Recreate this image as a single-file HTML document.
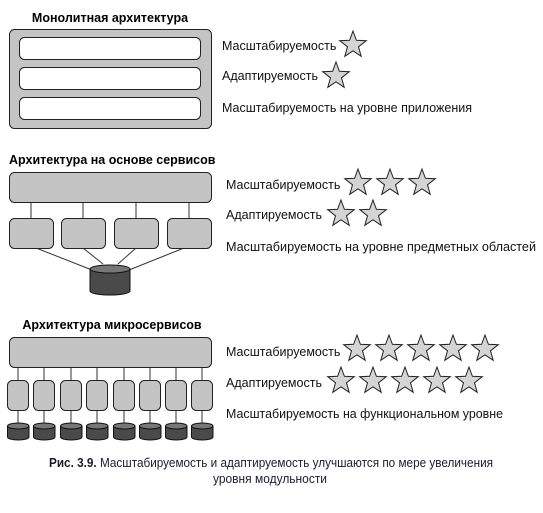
<!DOCTYPE html>
<html><head><meta charset="utf-8"><style>html,body{margin:0;padding:0;background:#fff}</style></head>
<body>
<svg width="543" height="508" viewBox="0 0 543 508" xmlns="http://www.w3.org/2000/svg" font-family="'Liberation Sans', sans-serif">
<defs>
<path id="st" d="M0,-14 L3.4,-4.7 L13.3,-4.3 L5.5,1.8 L8.2,11.3 L0,5.8 L-8.2,11.3 L-5.5,1.8 L-13.3,-4.3 L-3.4,-4.7 Z" fill="#d4d4d4" stroke="#222" stroke-width="1"/>
<g id="db"><path d="M-10.5,-5 V6 A10.75,3 0 0 0 11,6 V-5" fill="#4a4a4a" stroke="#111" stroke-width="1"/><ellipse cx="0.25" cy="-5" rx="10.75" ry="3" fill="#777" stroke="#111" stroke-width="1"/></g>
</defs>
<!-- Monolith -->
<text x="110" y="22" font-size="12.5" font-weight="bold" text-anchor="middle">Монолитная архитектура</text>
<rect x="9.5" y="29.5" width="202" height="99" rx="5" fill="#c4c4c4" stroke="#222"/>
<rect x="19.5" y="37.5" width="181" height="22" rx="5" fill="#fff" stroke="#222"/>
<rect x="19.5" y="67.5" width="181" height="22" rx="5" fill="#fff" stroke="#222"/>
<rect x="19.5" y="97.5" width="181" height="22" rx="5" fill="#fff" stroke="#222"/>
<g font-size="12.5" fill="#111">
<text x="222" y="50">Масштабируемость</text>
<text x="222" y="80">Адаптируемость</text>
<text x="222" y="112" textLength="250" lengthAdjust="spacingAndGlyphs">Масштабируемость на уровне приложения</text>
</g>
<use href="#st" x="353" y="45"/>
<use href="#st" x="336" y="76"/>
<!-- SOA -->
<text x="9" y="164" font-size="12.5" font-weight="bold">Архитектура на основе сервисов</text>
<g stroke="#333" stroke-width="1">
<line x1="31" y1="202" x2="31" y2="218"/><line x1="83" y1="202" x2="83" y2="218"/><line x1="136" y1="202" x2="136" y2="218"/><line x1="189" y1="202" x2="189" y2="218"/>
<line x1="31" y1="246" x2="92" y2="270"/><line x1="83" y1="248" x2="103" y2="264"/><line x1="136" y1="248" x2="118" y2="264"/><line x1="189" y1="246" x2="129" y2="270"/>
</g>
<rect x="9.5" y="172.5" width="202" height="30" rx="5" fill="#c4c4c4" stroke="#222"/>
<rect x="9.5" y="218.5" width="44" height="30" rx="5" fill="#c4c4c4" stroke="#222"/>
<rect x="61.5" y="218.5" width="44" height="30" rx="5" fill="#c4c4c4" stroke="#222"/>
<rect x="114.5" y="218.5" width="44" height="30" rx="5" fill="#c4c4c4" stroke="#222"/>
<rect x="167.5" y="218.5" width="44" height="30" rx="5" fill="#c4c4c4" stroke="#222"/>
<path d="M90,269 V291 A20,4 0 0 0 130,291 V269" fill="#4a4a4a" stroke="#111"/>
<ellipse cx="110" cy="269" rx="20" ry="4" fill="#777" stroke="#111"/>
<g font-size="12.5" fill="#111">
<text x="226" y="189">Масштабируемость</text>
<text x="226" y="219">Адаптируемость</text>
<text x="226" y="251" textLength="310" lengthAdjust="spacingAndGlyphs">Масштабируемость на уровне предметных областей</text>
</g>
<use href="#st" x="358" y="183"/><use href="#st" x="390" y="183"/><use href="#st" x="422" y="183"/>
<use href="#st" x="341" y="214"/><use href="#st" x="373" y="214"/>
<!-- Micro -->
<text x="112" y="329" font-size="12.5" font-weight="bold" text-anchor="middle">Архитектура микросервисов</text>
<g stroke="#333">
<line x1="18" y1="367" x2="18" y2="428"/><line x1="44" y1="367" x2="44" y2="428"/><line x1="71" y1="367" x2="71" y2="428"/><line x1="97" y1="367" x2="97" y2="428"/><line x1="124" y1="367" x2="124" y2="428"/><line x1="150" y1="367" x2="150" y2="428"/><line x1="176" y1="367" x2="176" y2="428"/><line x1="202" y1="367" x2="202" y2="428"/>
</g>
<rect x="9.5" y="337.5" width="202" height="30" rx="5" fill="#c4c4c4" stroke="#222"/>
<g fill="#c4c4c4" stroke="#222">
<rect x="7.5" y="380.5" width="21" height="30" rx="5"/><rect x="33.5" y="380.5" width="21" height="30" rx="5"/><rect x="60.5" y="380.5" width="21" height="30" rx="5"/><rect x="86.5" y="380.5" width="21" height="30" rx="5"/><rect x="113.5" y="380.5" width="21" height="30" rx="5"/><rect x="139.5" y="380.5" width="21" height="30" rx="5"/><rect x="165.5" y="380.5" width="21" height="30" rx="5"/><rect x="191.5" y="380.5" width="21" height="30" rx="5"/>
</g>
<use href="#db" x="18" y="431"/><use href="#db" x="44" y="431"/><use href="#db" x="71" y="431"/><use href="#db" x="97" y="431"/><use href="#db" x="124" y="431"/><use href="#db" x="150" y="431"/><use href="#db" x="176" y="431"/><use href="#db" x="202" y="431"/>
<g font-size="12.5" fill="#111">
<text x="226" y="356">Масштабируемость</text>
<text x="226" y="387">Адаптируемость</text>
<text x="226" y="418" textLength="277" lengthAdjust="spacingAndGlyphs">Масштабируемость на функциональном уровне</text>
</g>
<use href="#st" x="357" y="349"/><use href="#st" x="389" y="349"/><use href="#st" x="421" y="349"/><use href="#st" x="453" y="349"/><use href="#st" x="485" y="349"/>
<use href="#st" x="341" y="381"/><use href="#st" x="373" y="381"/><use href="#st" x="405" y="381"/><use href="#st" x="437" y="381"/><use href="#st" x="469" y="381"/>
<!-- Caption -->
<g font-size="13" fill="#1a1a33">
<text x="49" y="467" textLength="444" lengthAdjust="spacingAndGlyphs"><tspan font-weight="bold">Рис. 3.9.</tspan> Масштабируемость и адаптируемость улучшаются по мере увеличения</text>
<text x="213" y="483" textLength="114" lengthAdjust="spacingAndGlyphs">уровня модульности</text>
</g>
</svg>
</body></html>
